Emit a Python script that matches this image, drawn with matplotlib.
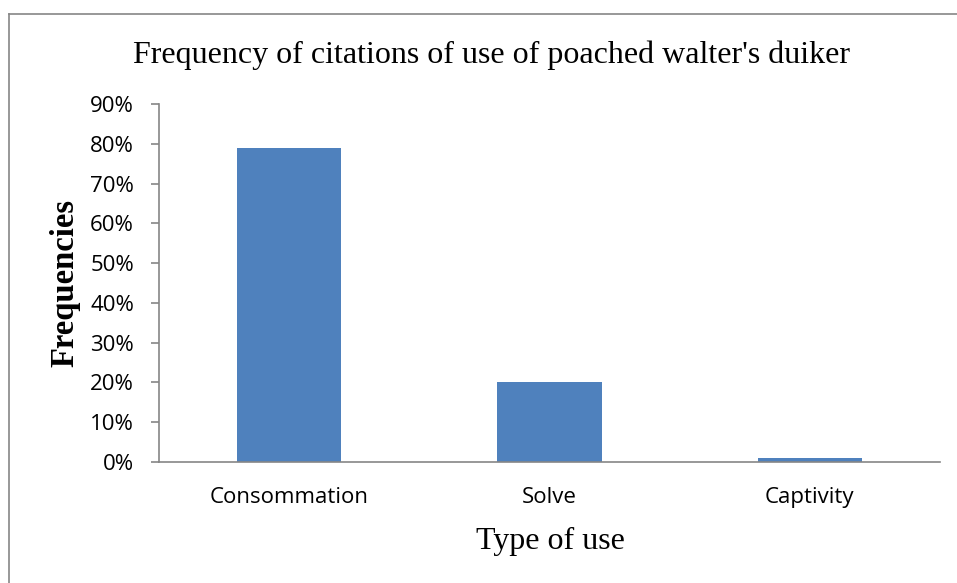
import matplotlib.pyplot as plt
from matplotlib.lines import Line2D
from matplotlib.ticker import PercentFormatter

# data
categories = ["Consommation", "Solve", "Captivity"]
frequencies = [0.79, 0.20, 0.01]

plt.rcParams["font.family"] = "Open Sans"

fig = plt.figure(figsize=(9.57, 5.83), dpi=100)
ax = fig.add_axes([159 / 957, 121 / 583, 781 / 957, 358 / 583])

ax.bar(range(len(categories)), frequencies, width=0.4, color="#4f81bd")
ax.set_xlim(-0.5, len(categories) - 0.5)
ax.set_ylim(0, 0.9)
ax.set_yticks([i / 10 for i in range(10)])
ax.yaxis.set_major_formatter(PercentFormatter(1.0, decimals=0))
ax.set_xticks(range(len(categories)))
ax.set_xticklabels(categories)

for s in ["top", "right"]:
    ax.spines[s].set_visible(False)
for s in ["left", "bottom"]:
    ax.spines[s].set_color("#868686")
    ax.spines[s].set_linewidth(1.2)
ax.tick_params(axis="y", direction="out", length=6, color="#868686", width=1.2,
               labelsize=16, pad=12)
ax.tick_params(axis="x", length=0, labelsize=16, pad=18)

serif = "Liberation Serif"
fig.text(491 / 957, 1 - 55 / 583, "Frequency of citations of use of poached walter's duiker",
         ha="center", va="center", family=serif, fontsize=23)
fig.text(65 / 957, 1 - 283 / 583, "Frequencies", rotation=90, ha="center", va="center",
         family=serif, fontsize=23.5, fontweight="bold")
fig.text(550 / 957, 1 - 541 / 583, "Type of use", ha="center", va="center",
         family=serif, fontsize=23)

# chart border
fig.add_artist(Line2D([9 / 957, 1.0], [1 - 14 / 583, 1 - 14 / 583],
                      transform=fig.transFigure, color="#868686", lw=1.2))
fig.add_artist(Line2D([9 / 957, 9 / 957], [0, 1 - 14 / 583],
                      transform=fig.transFigure, color="#868686", lw=1.2))

fig.savefig("out.png", dpi=100)
